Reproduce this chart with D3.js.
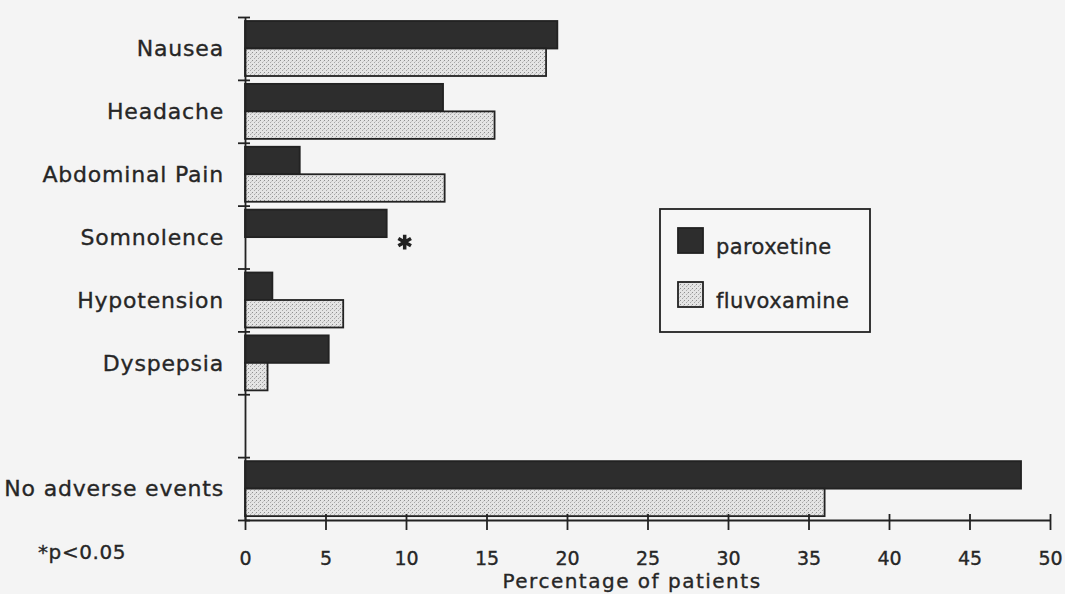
<!DOCTYPE html>
<html>
<head>
<meta charset="utf-8">
<script src="https://cdn.jsdelivr.net/npm/d3@7/dist/d3.min.js"></script>
<style>
  html, body { margin: 0; padding: 0; background: #f4f4f4; }
  svg { display: block; }
  text { font-family: "DejaVu Sans", sans-serif; fill: #262626; stroke: #262626; stroke-width: 0.35px; }
</style>
</head>
<body>
<svg id="chart" width="1065" height="594"></svg>
<script>
// Adverse events (% of patients) by treatment; "" is an empty spacer row
const categories = ["Nausea", "Headache", "Abdominal Pain", "Somnolence", "Hypotension", "Dyspepsia", "", "No adverse events"];
const paroxetine = [19.4, 12.3, 3.4, 8.8, 1.7, 5.2, null, 48.2];
const fluvoxamine = [18.7, 15.5, 12.4, null, 6.1, 1.4, null, 36.0];
const seriesNames = ["paroxetine", "fluvoxamine"];
const significant = ["Somnolence"];
const xTicks = [0, 5, 10, 15, 20, 25, 30, 35, 40, 45, 50];
const footnote = "*p<0.05";
const xTitle = "Percentage of patients";

const svg = d3.select("#chart");
const ink = "#222";

// Stippled fill for the fluvoxamine bars
const defs = svg.append("defs");
const pat = defs.append("pattern")
  .attr("id", "stipple").attr("patternUnits", "userSpaceOnUse")
  .attr("width", 4).attr("height", 4);
pat.append("rect").attr("width", 4).attr("height", 4).attr("fill", "#e4e4e4");
pat.append("rect").attr("x", 0).attr("y", 0).attr("width", 1).attr("height", 1).attr("fill", "#8f8f8f");
pat.append("rect").attr("x", 2).attr("y", 2).attr("width", 1).attr("height", 1).attr("fill", "#a8a8a8");
pat.append("rect").attr("x", 3).attr("y", 1).attr("width", 1).attr("height", 1).attr("fill", "#c8c8c8");

const fills = { paroxetine: "#2d2d2d", fluvoxamine: "url(#stipple)" };

const x = d3.scaleLinear().domain([0, 50]).range([245, 1050]);
const y = d3.scaleBand().domain(d3.range(categories.length)).range([17, 520]).padding(0);
const yEdge = d3.scaleLinear().domain([0, categories.length]).range([17, 520]);
const inner = d3.scaleBand().domain(seriesNames).range([4, 59]);

// Bars
const rows = categories.map((c, i) => ({ c, i, vals: { paroxetine: paroxetine[i], fluvoxamine: fluvoxamine[i] } }));
const barData = [];
rows.forEach(r => seriesNames.forEach(s => {
  if (r.vals[s] != null) barData.push({ i: r.i, s, v: r.vals[s] });
}));
svg.append("g").selectAll("rect").data(barData).join("rect")
  .attr("x", x(0))
  .attr("y", d => y(d.i) + inner(d.s))
  .attr("width", d => x(d.v) - x(0))
  .attr("height", inner.bandwidth())
  .attr("fill", d => fills[d.s])
  .attr("stroke", ink).attr("stroke-width", 1.8);

// Significance marker
rows.filter(r => significant.includes(r.c)).forEach(r => {
  svg.append("path")
    .attr("d", d3.symbol(d3.symbolAsterisk, 150)())
    .attr("transform", `translate(${x(r.vals.paroxetine) + 18},${y(r.i) + inner("paroxetine") + inner.bandwidth() + 5})`)
    .attr("fill", "none").attr("stroke", ink).attr("stroke-width", 3.5);
});

// X axis with ticks crossing the baseline
const xAxis = svg.append("g").attr("transform", "translate(0,520)")
  .call(d3.axisBottom(x).tickValues(xTicks).tickSize(10).tickSizeOuter(0));
xAxis.select(".domain").attr("stroke", ink).attr("stroke-width", 1.8);
xAxis.selectAll(".tick line").attr("y1", -6).attr("stroke", ink).attr("stroke-width", 1.8);
xAxis.selectAll(".tick text")
  .attr("y", 45).attr("dy", 0)
  .style("font-size", "19px").style("fill", "#262626");

// Y axis: ticks at band edges
const yAxis = svg.append("g").attr("transform", `translate(${x(0)},0)`)
  .call(d3.axisLeft(yEdge).tickValues(d3.range(categories.length + 1)).tickSize(6).tickSizeOuter(0).tickFormat(""));
yAxis.select(".domain").attr("stroke", ink).attr("stroke-width", 1.8);
yAxis.selectAll(".tick line").attr("x2", -7).attr("x1", 5).attr("stroke", ink).attr("stroke-width", 1.8);

// Category labels
const labAxis = svg.append("g").attr("transform", `translate(${x(0)},0)`)
  .call(d3.axisLeft(y).tickSize(0).tickPadding(21).tickFormat(i => categories[i]));
labAxis.select(".domain").remove();
labAxis.selectAll(".tick text")
  .style("font-size", "22px").style("letter-spacing", "0.8px").style("fill", "#262626")
  .attr("dy", "0.36em");

// Footnote and axis title
svg.append("text").attr("x", 38).attr("y", 559)
  .style("font-size", "20px").style("letter-spacing", "0.6px").text(footnote);
svg.append("text").attr("x", 632).attr("y", 588).attr("text-anchor", "middle")
  .style("font-size", "20px").style("letter-spacing", "1.5px").text(xTitle);

// Legend
const lg = svg.append("g");
lg.append("rect").attr("x", 660).attr("y", 209).attr("width", 210).attr("height", 123)
  .attr("fill", "#f6f6f6").attr("stroke", ink).attr("stroke-width", 1.8);
seriesNames.forEach((s, k) => {
  const top = 228 + k * 54;
  lg.append("rect").attr("x", 678).attr("y", top).attr("width", 25).attr("height", 25)
    .attr("fill", fills[s]).attr("stroke", ink).attr("stroke-width", 1.8);
  lg.append("text").attr("x", 716).attr("y", top + 26)
    .style("font-size", "21px").style("letter-spacing", "0.4px").text(s);
});
</script>
</body>
</html>
